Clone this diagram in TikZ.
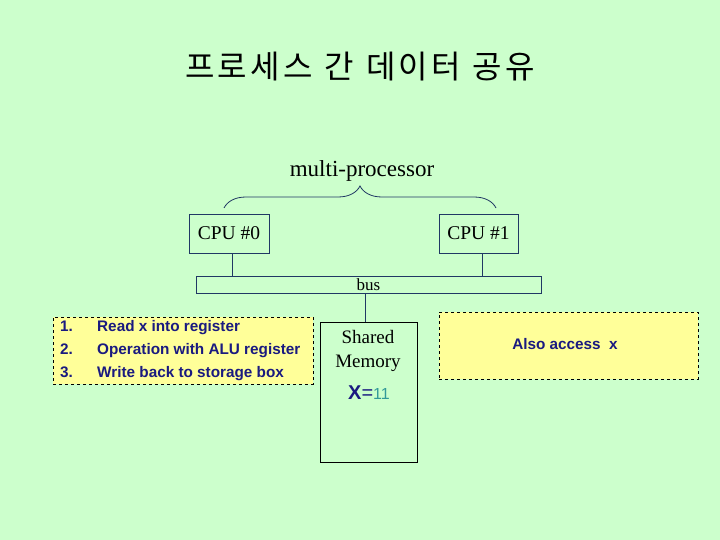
\documentclass[tikz,border=0pt]{standalone}
\usepackage{fontspec}
\setmainfont{Liberation Serif}
\setsansfont{Liberation Sans}
\newfontfamily\krfont[LetterSpace=10]{Noto Sans CJK KR}
\usetikzlibrary{decorations.pathreplacing}
\definecolor{bggreen}{HTML}{CCFFCC}
\definecolor{notefill}{HTML}{FFFF99}
\definecolor{notetext}{HTML}{1A1A80}
\definecolor{wire}{HTML}{203864}
\definecolor{valteal}{HTML}{339999}
\def\fsize#1{\fontsize{#1}{#1}\selectfont}

\begin{document}
\begin{tikzpicture}[x=1pt, y=-1pt,
	unit/.style={draw=wire, line width=0.8pt, inner sep=0pt},
	notebox/.style={draw=black, dashed, line width=0.7pt, fill=notefill, inner sep=0pt},
	notetxt/.style={font=\sffamily\bfseries\fsize{15.3}, text=notetext, inner sep=0pt}]
	%%%%% START %%%%%
	
	\fill[bggreen] (0, 0) rectangle (720, 540);
	
	\node[font=\krfont\fsize{32}] (title) at (360, 67) {프로세스\hspace{12pt}간\hspace{12pt}데이터\hspace{12pt}공유};
	
	\node[font=\fsize{23}] (mp) at (362, 171) {multi-processor};
	
	\node[unit, minimum width=80, minimum height=39, font=\fsize{19.5}] (cpu0) at (229, 233.5) {CPU \#0};
	\node[unit, minimum width=79, minimum height=39, font=\fsize{19.5}] (cpu1) at (478.5, 233.5) {CPU \#1};
	\coordinate (braceL) at (224, 208);
	\coordinate (braceR) at (496, 208);
	\draw[wire, line width=0.8pt, decorate, decoration={brace, amplitude=22pt, aspect=0.5}] (braceL) -- (braceR);
	
	\node[unit, minimum width=345, minimum height=17, font=\fsize{17}] (bus) at (368.5, 284.5) {bus};
	\coordinate (tap0) at (232, 276);
	\coordinate (tap1) at (482, 276);
	\coordinate (tapM) at (365, 293);
	\draw[wire, line width=0.8pt] (cpu0.south -| tap0) -- (tap0);
	\draw[wire, line width=0.8pt] (cpu1.south -| tap1) -- (tap1);
	
	\node[draw=black, line width=0.8pt, minimum width=97, minimum height=140, inner sep=0pt] (mem) at (368.5, 392) {};
	\draw[wire, line width=0.8pt] (tapM) -- (mem.north -| tapM);
	\node[font=\fsize{19}, align=center] (memlbl) at (368, 351) {Shared\\[5pt]Memory};
	\node[font=\sffamily\fsize{20}, inner sep=0pt] (xval) at (369, 393) {\textcolor{notetext}{\textbf{X}=}\textcolor{valteal}{\fsize{16}11}};
	
	\node[notebox, minimum width=260, minimum height=67] (steps) at (183, 350.5) {};
	\node[notetxt, anchor=base west] (n1) at (60, 331.5) {1.};
	\node[notetxt, anchor=base west] (n2) at (60, 354.5) {2.};
	\node[notetxt, anchor=base west] (n3) at (60, 377.5) {3.};
	\node[notetxt, anchor=base west] (s1) at (97, 331.5) {Read x into register};
	\node[notetxt, anchor=base west] (s2) at (97, 354.5) {Operation with ALU register};
	\node[notetxt, anchor=base west] (s3) at (97, 377.5) {Write back to storage box};
	
	\node[notebox, minimum width=259, minimum height=67] (other) at (568.5, 345.5) {};
	\node[notetxt, anchor=base] (otherlbl) at (565, 349.5) {Also access\ \ x};
	
	%%%%% END %%%%%
\end{tikzpicture}
\end{document}
